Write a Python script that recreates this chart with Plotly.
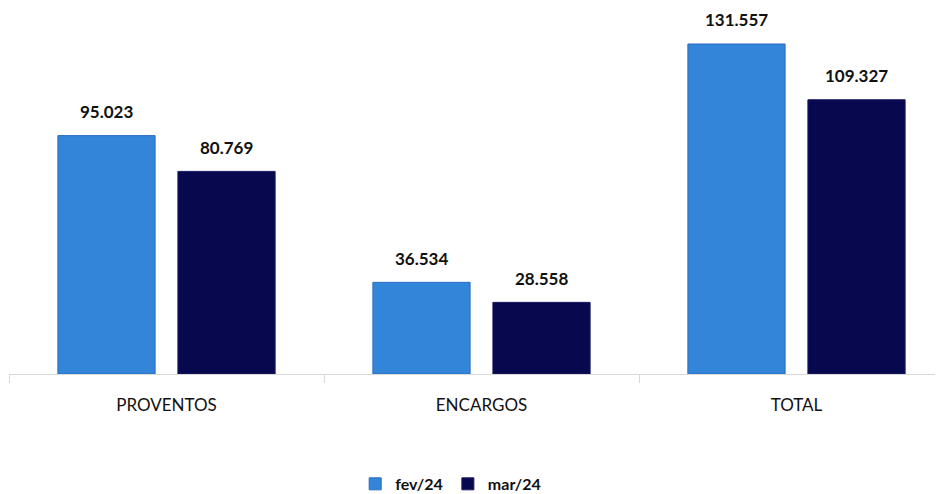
import plotly.graph_objects as go

categories = ["PROVENTOS", "ENCARGOS", "TOTAL"]
fev24 = [95.023, 36.534, 131.557]
mar24 = [80.769, 28.558, 109.327]
series_names = ["fev/24", "mar/24"]
colors = ["#3385da", "#08084f"]
edge_colors = ["#2a6cbf", "#1b1b66"]

def fmt(v):
    return f"{v:.3f}"

fig = go.Figure()
for name, vals, c, ec in zip(series_names, [fev24, mar24], colors, edge_colors):
    fig.add_trace(go.Bar(
        x=categories, y=vals, name=f"<b>{name}</b>",
        marker=dict(color=c, line=dict(color=ec, width=1)),
        cliponaxis=False,
    ))

# value labels, placed through the axes (x = category, y = value), offset by group slot
offsets = [-60, 60]
for vals, dx in zip([fev24, mar24], offsets):
    for cat, v in zip(categories, vals):
        fig.add_annotation(
            x=cat, y=v, text=f"<b>{fmt(v)}</b>", showarrow=False,
            xshift=dx, yshift=24, yanchor="middle", xanchor="center",
            font=dict(family="Lato", size=17, color="#111111"),
        )

fig.update_layout(
    width=935, height=486,
    margin=dict(l=1, r=8, t=2, b=120, autoexpand=False),
    paper_bgcolor="white", plot_bgcolor="white",
    barmode="group", bargap=0.238, bargroupgap=0.19,
    showlegend=True,
    legend=dict(orientation="h", x=0.477, xanchor="center", y=-0.302, yanchor="middle",
                font=dict(family="Lato", size=16, color="#111111"),
                itemwidth=30, tracegroupgap=0),
    font=dict(family="Lato"),
)
fig.update_xaxes(
    showline=True, linecolor="#d9d9d9", linewidth=1,
    ticks="outside", tickson="boundaries", ticklen=8, tickcolor="#d9d9d9",
    tickfont=dict(family="Lato", size=17, color="#111111"),
    ticklabelstandoff=16, range=[-0.5, 2.4397], automargin=False,
)
fig.update_yaxes(visible=False, range=[0, 145.1], showgrid=False, zeroline=False, automargin=False)

fig.write_html("out.html")
